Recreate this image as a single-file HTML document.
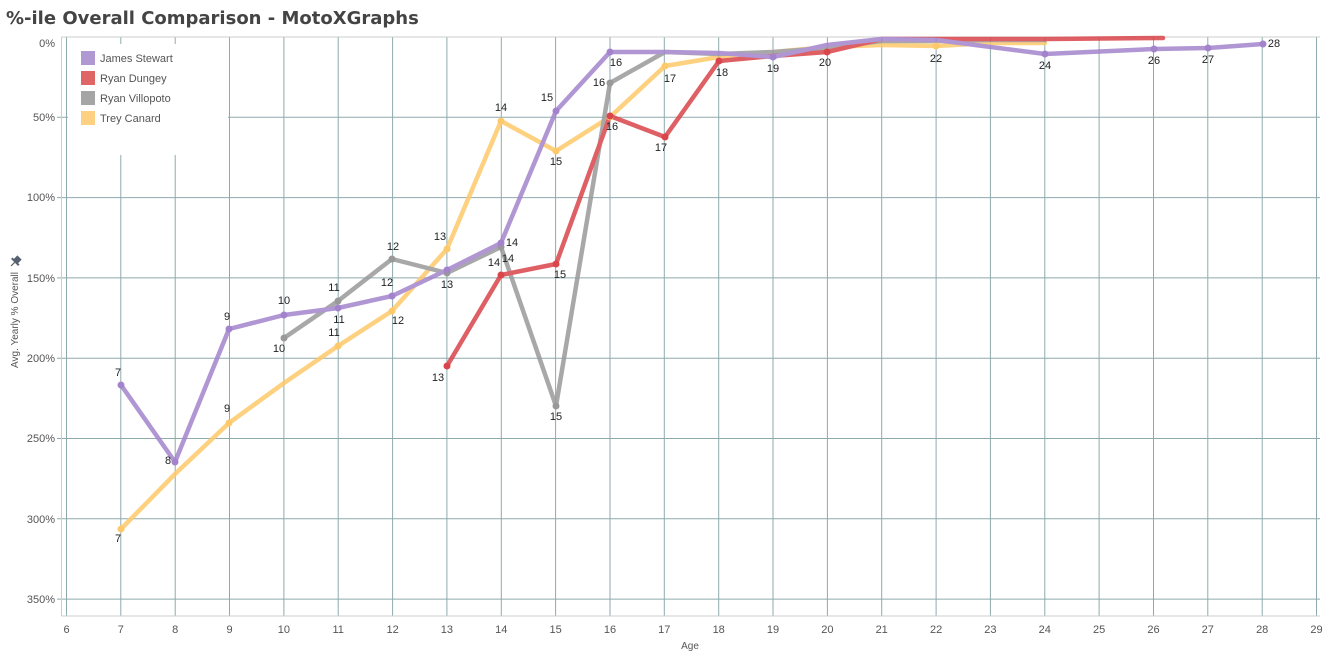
<!DOCTYPE html>
<html><head><meta charset="utf-8"><style>
body{margin:0;background:#fff;width:1324px;height:653px;overflow:hidden;font-family:"Liberation Sans",sans-serif}
</style></head><body>
<svg width="1324" height="653" xmlns="http://www.w3.org/2000/svg" font-family="Liberation Sans, sans-serif">
<text x="6" y="24" font-size="18" font-weight="bold" fill="#444" font-family="DejaVu Sans, sans-serif">%-ile Overall Comparison - MotoXGraphs</text>
<g stroke="#8faaae" stroke-width="1">
<line x1="66.5" y1="37" x2="66.5" y2="616"/><line x1="120.8" y1="37" x2="120.8" y2="616"/><line x1="175.2" y1="37" x2="175.2" y2="616"/><line x1="229.5" y1="37" x2="229.5" y2="616"/><line x1="283.9" y1="37" x2="283.9" y2="616"/><line x1="338.2" y1="37" x2="338.2" y2="616"/><line x1="392.6" y1="37" x2="392.6" y2="616"/><line x1="446.9" y1="37" x2="446.9" y2="616"/><line x1="501.3" y1="37" x2="501.3" y2="616"/><line x1="555.6" y1="37" x2="555.6" y2="616"/><line x1="610" y1="37" x2="610" y2="616"/><line x1="664.3" y1="37" x2="664.3" y2="616"/><line x1="718.7" y1="37" x2="718.7" y2="616"/><line x1="773" y1="37" x2="773" y2="616"/><line x1="827.4" y1="37" x2="827.4" y2="616"/><line x1="881.7" y1="37" x2="881.7" y2="616"/><line x1="936.1" y1="37" x2="936.1" y2="616"/><line x1="990.4" y1="37" x2="990.4" y2="616"/><line x1="1044.8" y1="37" x2="1044.8" y2="616"/><line x1="1099.1" y1="37" x2="1099.1" y2="616"/><line x1="1153.5" y1="37" x2="1153.5" y2="616"/><line x1="1207.8" y1="37" x2="1207.8" y2="616"/><line x1="1262.2" y1="37" x2="1262.2" y2="616"/><line x1="1316.5" y1="37" x2="1316.5" y2="616"/>
<line x1="57" y1="117.3" x2="1320" y2="117.3"/><line x1="57" y1="197.6" x2="1320" y2="197.6"/><line x1="57" y1="277.9" x2="1320" y2="277.9"/><line x1="57" y1="358.2" x2="1320" y2="358.2"/><line x1="57" y1="438.5" x2="1320" y2="438.5"/><line x1="57" y1="518.8" x2="1320" y2="518.8"/><line x1="57" y1="599.1" x2="1320" y2="599.1"/>
</g>
<g stroke="#ccc" fill="none"><line x1="61.5" y1="37" x2="1320" y2="37"/><line x1="61.5" y1="37" x2="61.5" y2="616"/><line x1="61.5" y1="616" x2="1320" y2="616"/></g>
<rect x="68" y="44" width="160" height="111" fill="#fff"/>
<g font-size="11" fill="#555">
<rect x="81" y="51" width="14" height="14" fill="#b099d2"/><text x="100" y="62">James Stewart</text>
<rect x="81" y="71" width="14" height="14" fill="#e06666"/><text x="100" y="82">Ryan Dungey</text>
<rect x="81" y="91" width="14" height="14" fill="#a5a5a5"/><text x="100" y="102">Ryan Villopoto</text>
<rect x="81" y="111" width="14" height="14" fill="#fdd082"/><text x="100" y="122">Trey Canard</text>
</g>
<g font-size="11" fill="#555" text-anchor="end">
<text x="55" y="47">0%</text><text x="55" y="121">50%</text><text x="55" y="201">100%</text><text x="55" y="282">150%</text><text x="55" y="362">200%</text><text x="55" y="442">250%</text><text x="55" y="523">300%</text><text x="55" y="603">350%</text>
</g>
<g font-size="11" fill="#555" text-anchor="middle">
<text x="66.5" y="633">6</text><text x="120.8" y="633">7</text><text x="175.2" y="633">8</text><text x="229.5" y="633">9</text><text x="283.9" y="633">10</text><text x="338.2" y="633">11</text><text x="392.6" y="633">12</text><text x="446.9" y="633">13</text><text x="501.3" y="633">14</text><text x="555.6" y="633">15</text><text x="610" y="633">16</text><text x="664.3" y="633">17</text><text x="718.7" y="633">18</text><text x="773" y="633">19</text><text x="827.4" y="633">20</text><text x="881.7" y="633">21</text><text x="936.1" y="633">22</text><text x="990.4" y="633">23</text><text x="1044.8" y="633">24</text><text x="1099.1" y="633">25</text><text x="1153.5" y="633">26</text><text x="1207.8" y="633">27</text><text x="1262.2" y="633">28</text><text x="1316.5" y="633">29</text>
<text x="690" y="649" font-size="10">Age</text>
<text transform="translate(18,320) rotate(-90)" font-size="10">Avg. Yearly % Overall</text>
</g>
<g transform="translate(16,261) rotate(45)" fill="#556070"><rect x="-3" y="-5" width="6" height="6"/><rect x="-5" y="0" width="10" height="2"/><rect x="-0.6" y="2" width="1.2" height="5"/></g>
<g fill="none" stroke-width="4.5" stroke-linejoin="round" stroke-linecap="round" opacity="0.85">
<polyline stroke="#fdc96a" points="121,529 175,474 229,423 284,383 338,346 392,311 447,249 501,121 556,151 610,117 665,66 719,57 773,52 827,47 882,45 936,46 990,43 1045,43"/>
<polyline stroke="#999" points="284,338 338,301 392,259 447,273 501,247 556,406 610,83 665,52 719,54 773,52 827,48 882,41 936,41 990,40 1045,40"/>
<polyline stroke="#d9454a" points="447,366 501,275 556,264 610,116 665,137 719,61 773,56 827,52 882,39 936,39 990,39 1045,39 1163,38"/>
<polyline stroke="#a384cc" points="121,385 175,462 229,329 284,315 338,308 392,296 447,270 501,243 556,111 610,52 665,52 719,53 773,57 827,45 882,39 936,40 1045,54 1154,49 1208,48 1263,44"/>
</g>
<g>
<g fill="#fdc96a"><circle cx="121" cy="529" r="3.5"/><circle cx="229" cy="423" r="3.5"/><circle cx="338" cy="346" r="3.5"/><circle cx="392" cy="311" r="3.5"/><circle cx="447" cy="249" r="3.5"/><circle cx="501" cy="121" r="3.5"/><circle cx="556" cy="151" r="3.5"/><circle cx="610" cy="117" r="3.5"/><circle cx="665" cy="66" r="3.5"/><circle cx="936" cy="46" r="3.5"/></g>
<g fill="#999"><circle cx="284" cy="338" r="3.5"/><circle cx="338" cy="301" r="3.5"/><circle cx="392" cy="259" r="3.5"/><circle cx="447" cy="273" r="3.5"/><circle cx="501" cy="247" r="3.5"/><circle cx="556" cy="406" r="3.5"/><circle cx="610" cy="83" r="3.5"/></g>
<g fill="#d9454a"><circle cx="447" cy="366" r="3.5"/><circle cx="501" cy="275" r="3.5"/><circle cx="556" cy="264" r="3.5"/><circle cx="610" cy="116" r="3.5"/><circle cx="665" cy="137" r="3.5"/><circle cx="719" cy="61" r="3.5"/><circle cx="827" cy="52" r="3.5"/></g>
<g fill="#a384cc"><circle cx="121" cy="385" r="3.5"/><circle cx="175" cy="462" r="3.5"/><circle cx="229" cy="329" r="3.5"/><circle cx="284" cy="315" r="3.5"/><circle cx="338" cy="308" r="3.5"/><circle cx="392" cy="296" r="3.5"/><circle cx="447" cy="270" r="3.5"/><circle cx="501" cy="243" r="3.5"/><circle cx="556" cy="111" r="3.5"/><circle cx="610" cy="52" r="3.5"/><circle cx="773" cy="57" r="3.5"/><circle cx="1045" cy="54" r="3.5"/><circle cx="1154" cy="49" r="3.5"/><circle cx="1208" cy="48" r="3.5"/><circle cx="1263" cy="44" r="3.5"/></g>
</g>
<g font-size="11" fill="#222" text-anchor="middle">
<text x="118" y="376">7</text><text x="168" y="464">8</text><text x="227" y="320">9</text><text x="284" y="304">10</text><text x="339" y="323">11</text><text x="387" y="286">12</text><text x="547" y="101">15</text><text x="616" y="66">16</text><text x="512" y="246">14</text>
<text x="118" y="542">7</text><text x="227" y="412">9</text><text x="334" y="336">11</text><text x="398" y="324">12</text><text x="440" y="240">13</text><text x="501" y="111">14</text><text x="556" y="165">15</text><text x="612" y="130">16</text><text x="670" y="82">17</text>
<text x="279" y="352">10</text><text x="334" y="291">11</text><text x="393" y="250">12</text><text x="447" y="288">13</text><text x="508" y="262">14</text><text x="556" y="420">15</text><text x="599" y="86">16</text>
<text x="438" y="381">13</text><text x="494" y="266">14</text><text x="560" y="278">15</text><text x="661" y="151">17</text><text x="722" y="76">18</text>
<text x="773" y="72">19</text><text x="825" y="66">20</text><text x="936" y="62">22</text><text x="1045" y="69">24</text><text x="1154" y="64">26</text><text x="1208" y="63">27</text><text x="1274" y="47">28</text>
</g>
</svg>
</body></html>
